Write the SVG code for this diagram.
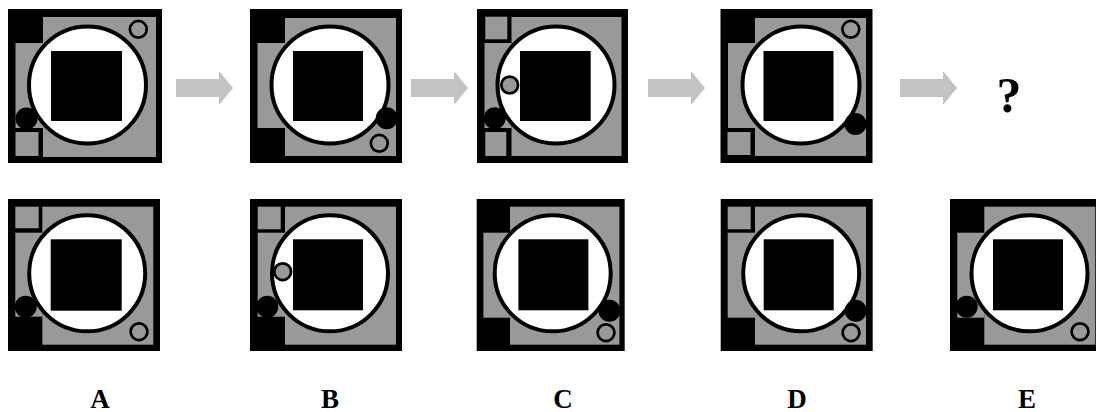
<svg xmlns="http://www.w3.org/2000/svg" width="1096" height="412" viewBox="0 0 1096 412">
<style>
.frame{fill:#000}
.g{fill:#999}
.big{fill:#fff;stroke:#000;stroke-width:4}
.sq{fill:#000}
.dot{fill:#000}
.ring{fill:#999;stroke:#000;stroke-width:2.7}
.arrow{fill:#c3c3c3}
.q{font-family:"Liberation Serif",serif;font-weight:bold;font-size:50px;text-anchor:middle}
.lbl{font-family:"Liberation Serif",serif;font-weight:bold;font-size:27px;text-anchor:middle}
</style>
<g id="tile1" transform="translate(8,9)">
<rect class="frame" width="154" height="154"/>
<rect class="g" x="35" y="8" width="113" height="140"/>
<rect class="g" x="7.5" y="34" width="27.5" height="85"/>
<rect class="g" x="7.5" y="123" width="23" height="24"/>
<circle class="big" cx="79.5" cy="76" r="58.5"/>
<rect class="sq" x="43" y="42" width="71" height="70"/>
<circle class="dot" cx="18.5" cy="109.5" r="11"/>
<circle class="ring" cx="130.3" cy="20.3" r="8.4"/>
</g>
<g id="tile2" transform="translate(250,9)">
<rect class="frame" width="152" height="154"/>
<rect class="g" x="35" y="9" width="111" height="138"/>
<rect class="g" x="7.5" y="34" width="27.5" height="85"/>
<circle class="big" cx="80" cy="76" r="58.5"/>
<rect class="sq" x="43" y="42" width="70" height="70"/>
<circle class="dot" cx="136.7" cy="109.3" r="11"/>
<circle class="ring" cx="129.3" cy="134.3" r="8.4"/>
</g>
<g id="tile3" transform="translate(477,9)">
<rect class="frame" width="151" height="154"/>
<rect class="g" x="34.5" y="8" width="110" height="139"/>
<rect class="g" x="7.5" y="34" width="27" height="85"/>
<rect class="g" x="8.3" y="7.7" width="22" height="22.6"/>
<rect class="g" x="8.3" y="123" width="21" height="24"/>
<circle class="big" cx="79" cy="76" r="58.5"/>
<rect class="sq" x="43" y="42" width="70.7" height="70"/>
<circle class="dot" cx="17.7" cy="109.3" r="11"/>
<circle class="ring" cx="32.7" cy="76" r="8.4"/>
</g>
<g id="tile4" transform="translate(720.5,9)">
<rect class="frame" width="152" height="154"/>
<rect class="g" x="34.5" y="9" width="111" height="138"/>
<rect class="g" x="7.5" y="34" width="27" height="85"/>
<rect class="g" x="7" y="123" width="23" height="23"/>
<circle class="big" cx="80.5" cy="76" r="58.5"/>
<rect class="sq" x="43" y="42" width="70" height="70"/>
<circle class="dot" cx="135" cy="115" r="11"/>
<circle class="ring" cx="130.3" cy="20.3" r="8.4"/>
</g>
<g id="optA" transform="translate(8,199)">
<rect class="frame" width="152" height="152"/>
<rect class="g" x="34.3" y="7.7" width="111" height="138"/>
<rect class="g" x="7.3" y="33.7" width="27" height="84"/>
<rect class="g" x="7.3" y="7.7" width="23.4" height="21.6"/>
<circle class="big" cx="79.2" cy="74.3" r="58"/>
<rect class="sq" x="42.7" y="40.3" width="71" height="71.4"/>
<circle class="dot" cx="17.7" cy="107.7" r="11"/>
<circle class="ring" cx="131" cy="132.7" r="8.4"/>
</g>
<g id="optB" transform="translate(250,199)">
<rect class="frame" width="152" height="152"/>
<rect class="g" x="35" y="7.7" width="111" height="138"/>
<rect class="g" x="7.7" y="33.7" width="27.3" height="84"/>
<rect class="g" x="7.7" y="7.7" width="23" height="22.6"/>
<circle class="big" cx="80" cy="74.3" r="58"/>
<rect class="sq" x="43" y="40.3" width="70" height="71"/>
<circle class="dot" cx="17.3" cy="107.7" r="11"/>
<circle class="ring" cx="32.7" cy="72.7" r="8.4"/>
</g>
<g id="optC" transform="translate(476.7,199)">
<rect class="frame" width="148" height="152"/>
<rect class="g" x="33.3" y="7.7" width="109.4" height="138"/>
<rect class="g" x="6.7" y="33.7" width="26.6" height="85"/>
<circle class="big" cx="76" cy="74.3" r="58"/>
<rect class="sq" x="41.7" y="40.3" width="70" height="71"/>
<circle class="dot" cx="132.7" cy="111.7" r="11"/>
<circle class="ring" cx="129.3" cy="133.7" r="8.4"/>
</g>
<g id="optD" transform="translate(720.7,199)">
<rect class="frame" width="152" height="152"/>
<rect class="g" x="34.3" y="7.7" width="111" height="138"/>
<rect class="g" x="7" y="33.7" width="27.3" height="85"/>
<rect class="g" x="7" y="7.7" width="23" height="22.6"/>
<circle class="big" cx="80.5" cy="74.3" r="58"/>
<rect class="sq" x="43" y="40.3" width="70" height="71"/>
<circle class="dot" cx="135" cy="111.7" r="11"/>
<circle class="ring" cx="130.3" cy="133.7" r="8.4"/>
</g>
<g id="optE" transform="translate(950,199)">
<rect class="frame" width="152" height="152"/>
<rect class="g" x="34.3" y="7.7" width="111" height="138"/>
<rect class="g" x="7.3" y="33.7" width="27" height="85"/>
<circle class="big" cx="79.5" cy="74.3" r="58"/>
<rect class="sq" x="43" y="40.3" width="70" height="71"/>
<circle class="dot" cx="16.7" cy="107.7" r="11"/>
<circle class="ring" cx="130" cy="132.7" r="8.4"/>
</g>
<g id="connectors">
<polygon class="arrow" points="176,79 219,79 219,71 233,88 219,105 219,97 176,97"/>
<polygon class="arrow" points="411,79 454,79 454,71 468,88 454,105 454,97 411,97"/>
<polygon class="arrow" points="648,79 691,79 691,71 705,88 691,105 691,97 648,97"/>
<polygon class="arrow" points="900,79 943,79 943,71 957,88 943,105 943,97 900,97"/>
</g>
<g id="labels">
<text class="q" x="1009" y="112">?</text>
<text class="lbl" x="100" y="408">A</text>
<text class="lbl" x="330" y="408">B</text>
<text class="lbl" x="563" y="408">C</text>
<text class="lbl" x="797" y="408">D</text>
<text class="lbl" x="1027" y="408">E</text>
</g>
</svg>
